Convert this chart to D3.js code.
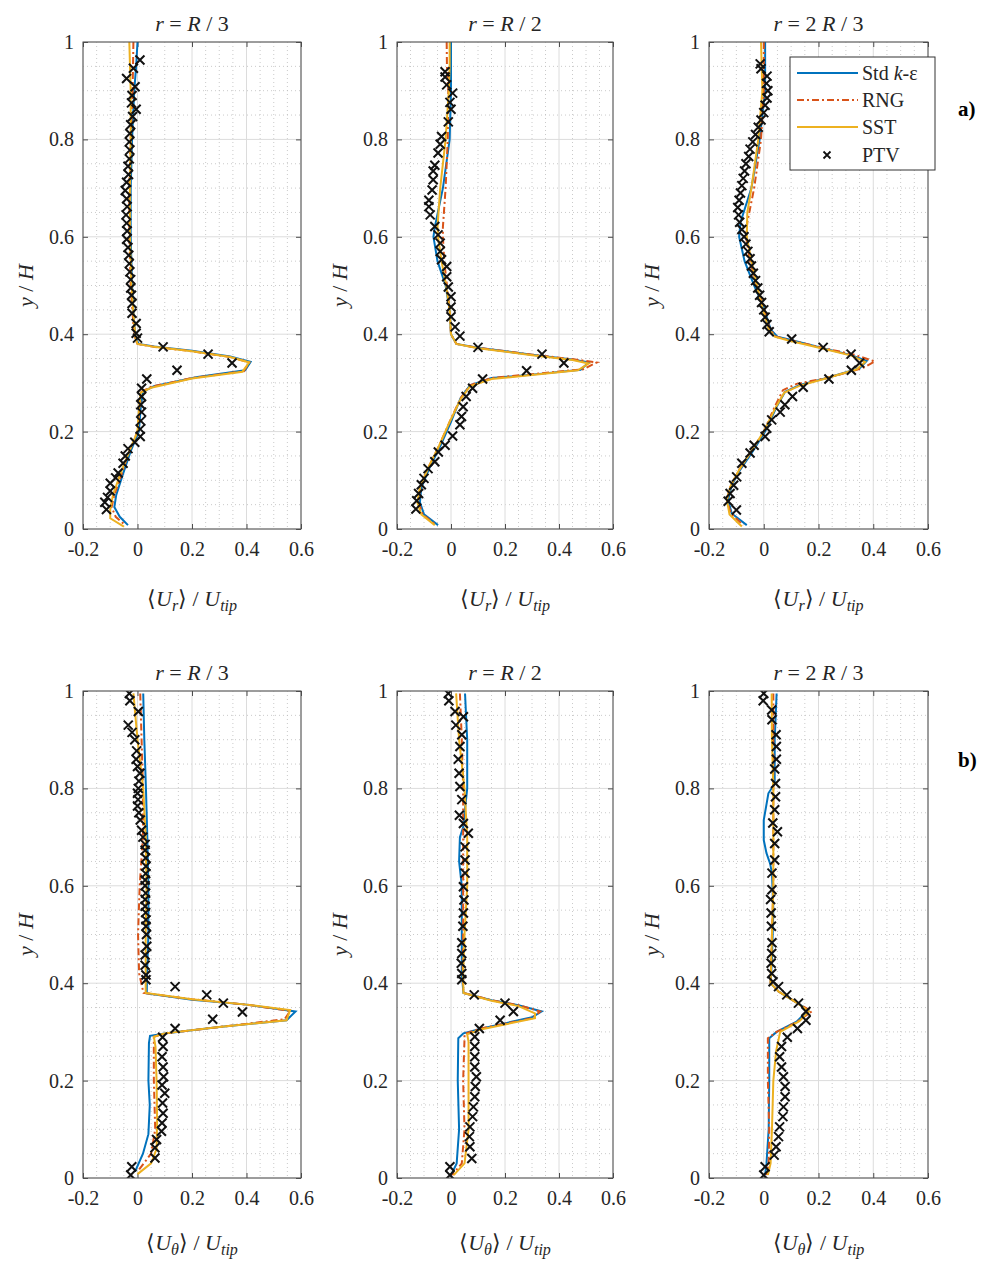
<!DOCTYPE html>
<html><head><meta charset="utf-8">
<script src="https://cdn.jsdelivr.net/npm/d3@7"></script>
<style>body{margin:0;background:#fff} svg{display:block} svg text{font-family:"Liberation Serif","Times New Roman",serif}</style>
</head><body>
<svg id="c" width="990" height="1262"></svg>
<script>
// ---------- tick labels / categories ----------
const xTicks = [-0.2, 0, 0.2, 0.4, 0.6];
const xTickLabels = ["-0.2", "0", "0.2", "0.4", "0.6"];
const yTicks = [0, 0.2, 0.4, 0.6, 0.8, 1];
const yTickLabels = ["0", "0.2", "0.4", "0.6", "0.8", "1"];
const radialPositions = ["R / 3", "R / 2", "2 R / 3"];
const components = ["r", "θ"];
const seriesNames = ["Std k-ε", "RNG", "SST", "PTV"];
const rowTags = ["a)", "b)"];

// ---------- (a) <Ur>/Utip ----------
const urR3Std = [[0.0,1.0],[-0.005,0.95],[-0.012,0.9],[-0.02,0.8],[-0.025,0.7],[-0.025,0.6],[-0.02,0.5],[-0.012,0.42],[-0.005,0.39],[0.005,0.38],[0.06,0.375],[0.2,0.366],[0.34,0.354],[0.415,0.343],[0.395,0.326],[0.22,0.312],[0.06,0.293],[0.02,0.282],[0.012,0.25],[0.005,0.2],[-0.025,0.16],[-0.055,0.11],[-0.078,0.07],[-0.085,0.045],[-0.065,0.025],[-0.035,0.008]];
const urR3Rng = [[-0.015,1.0],[-0.018,0.9],[-0.025,0.8],[-0.03,0.7],[-0.03,0.6],[-0.025,0.5],[-0.015,0.42],[-0.008,0.39],[0.0,0.38],[0.06,0.374],[0.2,0.365],[0.34,0.353],[0.41,0.342],[0.39,0.324],[0.2,0.31],[0.05,0.292],[0.015,0.282],[0.008,0.25],[0.0,0.2],[-0.03,0.16],[-0.06,0.11],[-0.085,0.07],[-0.095,0.045],[-0.08,0.025],[-0.045,0.008]];
const urR3Sst = [[-0.03,1.0],[-0.025,0.9],[-0.025,0.8],[-0.028,0.7],[-0.028,0.6],[-0.022,0.5],[-0.012,0.42],[-0.006,0.39],[0.0,0.38],[0.06,0.374],[0.2,0.365],[0.34,0.353],[0.41,0.342],[0.385,0.323],[0.2,0.309],[0.05,0.29],[0.012,0.28],[0.006,0.25],[0.0,0.2],[-0.03,0.16],[-0.065,0.11],[-0.09,0.07],[-0.1,0.04],[-0.1,0.022],[-0.05,0.005]];
const urR3Ptv = [[0.009,0.963],[-0.015,0.946],[-0.04,0.925],[-0.009,0.908],[-0.02,0.89],[-0.022,0.875],[-0.005,0.862],[-0.018,0.847],[-0.025,0.83],[-0.028,0.812],[-0.03,0.795],[-0.028,0.778],[-0.03,0.76],[-0.035,0.745],[-0.033,0.728],[-0.04,0.712],[-0.045,0.695],[-0.04,0.678],[-0.038,0.662],[-0.042,0.645],[-0.04,0.628],[-0.038,0.612],[-0.04,0.595],[-0.035,0.578],[-0.032,0.562],[-0.03,0.545],[-0.028,0.528],[-0.025,0.512],[-0.025,0.495],[-0.022,0.48],[-0.02,0.463],[-0.02,0.443],[-0.005,0.422],[-0.005,0.402],[0.0,0.392],[0.094,0.374],[0.259,0.359],[0.347,0.341],[0.145,0.326],[0.034,0.308],[0.015,0.289],[0.015,0.272],[0.012,0.255],[0.015,0.24],[0.012,0.222],[0.01,0.205],[0.01,0.19],[-0.01,0.178],[-0.035,0.165],[-0.045,0.15],[-0.053,0.135],[-0.071,0.115],[-0.08,0.105],[-0.1,0.094],[-0.1,0.078],[-0.11,0.065],[-0.12,0.055],[-0.114,0.04]];

const urR2Std = [[0.0,1.0],[0.0,0.95],[0.0,0.9],[-0.005,0.8],[-0.03,0.7],[-0.06,0.62],[-0.065,0.6],[-0.05,0.55],[-0.02,0.5],[-0.005,0.45],[0.0,0.4],[0.02,0.38],[0.1,0.372],[0.3,0.358],[0.45,0.348],[0.51,0.342],[0.48,0.327],[0.3,0.317],[0.15,0.31],[0.07,0.295],[0.035,0.268],[0.0,0.22],[-0.04,0.17],[-0.08,0.125],[-0.11,0.085],[-0.115,0.055],[-0.1,0.03],[-0.048,0.008]];
const urR2Rng = [[-0.016,1.0],[-0.015,0.95],[-0.01,0.9],[-0.012,0.8],[-0.02,0.7],[-0.03,0.62],[-0.03,0.6],[-0.025,0.55],[-0.015,0.5],[-0.005,0.45],[0.0,0.4],[0.02,0.38],[0.1,0.372],[0.3,0.358],[0.46,0.348],[0.54,0.342],[0.49,0.328],[0.3,0.318],[0.15,0.31],[0.07,0.295],[0.035,0.268],[-0.005,0.22],[-0.045,0.17],[-0.085,0.125],[-0.115,0.085],[-0.12,0.055],[-0.105,0.03],[-0.055,0.008]];
const urR2Sst = [[-0.005,1.0],[-0.005,0.95],[-0.008,0.9],[-0.02,0.8],[-0.04,0.7],[-0.05,0.62],[-0.048,0.6],[-0.035,0.55],[-0.018,0.5],[-0.005,0.45],[0.0,0.4],[0.02,0.38],[0.1,0.371],[0.3,0.357],[0.45,0.347],[0.51,0.34],[0.47,0.326],[0.3,0.316],[0.15,0.308],[0.07,0.293],[0.035,0.266],[-0.005,0.22],[-0.045,0.17],[-0.085,0.125],[-0.115,0.085],[-0.125,0.055],[-0.11,0.03],[-0.06,0.008]];
const urR2Ptv = [[-0.022,0.939],[-0.022,0.928],[-0.016,0.912],[0.006,0.895],[-0.004,0.876],[0.0,0.862],[-0.01,0.836],[-0.035,0.806],[-0.04,0.79],[-0.048,0.772],[-0.06,0.747],[-0.066,0.735],[-0.066,0.717],[-0.07,0.696],[-0.082,0.675],[-0.082,0.662],[-0.077,0.645],[-0.06,0.621],[-0.048,0.604],[-0.04,0.587],[-0.04,0.57],[-0.035,0.553],[-0.016,0.539],[-0.016,0.518],[-0.01,0.497],[0.0,0.477],[0.0,0.456],[0.0,0.436],[0.015,0.415],[0.033,0.396],[0.1,0.373],[0.337,0.359],[0.418,0.341],[0.28,0.325],[0.117,0.308],[0.08,0.289],[0.056,0.272],[0.045,0.251],[0.039,0.231],[0.033,0.214],[0.006,0.191],[-0.022,0.172],[-0.047,0.158],[-0.06,0.138],[-0.085,0.124],[-0.1,0.104],[-0.11,0.091],[-0.12,0.073],[-0.127,0.058],[-0.13,0.041]];

const ur2R3Std = [[0.005,1.0],[0.005,0.9],[-0.015,0.8],[-0.045,0.7],[-0.085,0.63],[-0.09,0.6],[-0.07,0.55],[-0.035,0.5],[0.0,0.455],[0.025,0.41],[0.05,0.395],[0.1,0.388],[0.217,0.371],[0.32,0.357],[0.376,0.345],[0.35,0.33],[0.23,0.31],[0.132,0.296],[0.078,0.282],[0.047,0.251],[0.005,0.2],[-0.044,0.156],[-0.087,0.121],[-0.117,0.09],[-0.13,0.06],[-0.117,0.032],[-0.062,0.008]];
const ur2R3Rng = [[0.0,1.0],[0.0,0.9],[-0.01,0.8],[-0.035,0.7],[-0.06,0.63],[-0.065,0.6],[-0.05,0.55],[-0.025,0.5],[0.0,0.455],[0.022,0.41],[0.045,0.395],[0.095,0.388],[0.215,0.372],[0.33,0.358],[0.406,0.344],[0.36,0.33],[0.23,0.31],[0.12,0.298],[0.07,0.285],[0.04,0.251],[0.0,0.2],[-0.05,0.156],[-0.09,0.121],[-0.12,0.09],[-0.135,0.06],[-0.12,0.032],[-0.075,0.008]];
const ur2R3Sst = [[-0.01,1.0],[-0.005,0.9],[-0.02,0.8],[-0.045,0.7],[-0.06,0.65],[-0.062,0.6],[-0.045,0.55],[-0.025,0.5],[-0.005,0.455],[0.018,0.41],[0.04,0.395],[0.09,0.387],[0.21,0.371],[0.32,0.356],[0.37,0.343],[0.34,0.328],[0.22,0.308],[0.13,0.294],[0.075,0.28],[0.044,0.25],[0.0,0.2],[-0.05,0.156],[-0.09,0.121],[-0.12,0.09],[-0.135,0.06],[-0.125,0.03],[-0.08,0.005]];
const ur2R3Ptv = [[-0.013,0.955],[-0.01,0.945],[0.012,0.93],[0.01,0.915],[0.015,0.9],[0.012,0.885],[0.005,0.87],[0.0,0.855],[-0.01,0.84],[-0.02,0.825],[-0.03,0.81],[-0.04,0.795],[-0.05,0.78],[-0.055,0.765],[-0.065,0.75],[-0.07,0.735],[-0.075,0.72],[-0.08,0.705],[-0.085,0.69],[-0.09,0.675],[-0.095,0.66],[-0.092,0.645],[-0.088,0.63],[-0.08,0.615],[-0.072,0.6],[-0.065,0.585],[-0.058,0.57],[-0.05,0.555],[-0.045,0.54],[-0.038,0.525],[-0.03,0.51],[-0.022,0.495],[-0.015,0.48],[-0.008,0.465],[0.0,0.45],[0.005,0.435],[0.012,0.42],[0.02,0.405],[0.102,0.39],[0.217,0.373],[0.319,0.359],[0.35,0.341],[0.32,0.326],[0.238,0.308],[0.144,0.291],[0.105,0.272],[0.077,0.255],[0.06,0.24],[0.029,0.224],[0.011,0.207],[0.005,0.19],[-0.035,0.172],[-0.05,0.156],[-0.08,0.135],[-0.099,0.107],[-0.11,0.09],[-0.123,0.073],[-0.13,0.057],[-0.1,0.039]];

// ---------- (b) <Utheta>/Utip ----------
const utR3Std = [[0.021,0.995],[0.025,0.9],[0.031,0.8],[0.036,0.7],[0.04,0.6],[0.04,0.5],[0.035,0.42],[0.034,0.379],[0.2,0.366],[0.4,0.356],[0.58,0.342],[0.547,0.324],[0.3,0.31],[0.107,0.297],[0.046,0.292],[0.042,0.277],[0.04,0.2],[0.045,0.15],[0.04,0.09],[0.02,0.05],[-0.009,0.013]];
const utR3Rng = [[0.01,0.995],[0.015,0.9],[0.02,0.8],[0.02,0.7],[0.008,0.6],[0.002,0.5],[0.006,0.42],[0.022,0.38],[0.2,0.367],[0.4,0.356],[0.56,0.343],[0.54,0.326],[0.3,0.31],[0.1,0.297],[0.06,0.29],[0.06,0.2],[0.065,0.1],[0.05,0.05],[0.0,0.013]];
const utR3Sst = [[-0.015,0.995],[0.0,0.9],[0.021,0.8],[0.03,0.7],[0.033,0.6],[0.03,0.5],[0.03,0.42],[0.03,0.38],[0.2,0.367],[0.4,0.356],[0.56,0.345],[0.547,0.324],[0.3,0.31],[0.1,0.297],[0.06,0.29],[0.066,0.27],[0.07,0.2],[0.072,0.12],[0.07,0.06],[0.05,0.03],[0.0,0.008]];
const utR3Ptv = [[-0.03,0.995],[-0.028,0.98],[0.003,0.958],[-0.034,0.93],[-0.02,0.915],[-0.01,0.9],[-0.003,0.877],[-0.005,0.86],[0.0,0.845],[0.009,0.831],[0.005,0.815],[0.003,0.8],[0.0,0.79],[0.002,0.777],[0.0,0.764],[0.005,0.75],[0.01,0.735],[0.015,0.714],[0.02,0.7],[0.028,0.685],[0.028,0.673],[0.03,0.657],[0.031,0.64],[0.03,0.625],[0.028,0.612],[0.028,0.6],[0.03,0.585],[0.028,0.572],[0.028,0.558],[0.03,0.545],[0.031,0.53],[0.031,0.517],[0.033,0.5],[0.034,0.476],[0.028,0.458],[0.028,0.437],[0.031,0.417],[0.031,0.407],[0.138,0.393],[0.254,0.376],[0.315,0.359],[0.385,0.341],[0.276,0.326],[0.138,0.307],[0.092,0.289],[0.094,0.27],[0.09,0.249],[0.094,0.228],[0.096,0.208],[0.09,0.191],[0.1,0.174],[0.092,0.154],[0.094,0.133],[0.09,0.113],[0.088,0.096],[0.07,0.079],[0.064,0.062],[0.064,0.041],[-0.021,0.023],[-0.025,0.006]];

const utR2Std = [[0.052,0.995],[0.06,0.9],[0.06,0.8],[0.045,0.72],[0.033,0.7],[0.03,0.65],[0.04,0.6],[0.04,0.5],[0.04,0.42],[0.046,0.38],[0.15,0.365],[0.25,0.355],[0.336,0.342],[0.3,0.33],[0.114,0.307],[0.046,0.297],[0.027,0.287],[0.025,0.2],[0.03,0.1],[0.021,0.03],[0.0,0.006]];
const utR2Rng = [[0.033,0.995],[0.04,0.9],[0.045,0.8],[0.045,0.7],[0.045,0.6],[0.045,0.5],[0.043,0.42],[0.046,0.38],[0.15,0.365],[0.25,0.355],[0.33,0.342],[0.3,0.328],[0.11,0.307],[0.05,0.296],[0.05,0.285],[0.045,0.2],[0.05,0.1],[0.04,0.03],[0.005,0.006]];
const utR2Sst = [[0.019,0.995],[0.03,0.9],[0.05,0.8],[0.06,0.7],[0.06,0.6],[0.05,0.5],[0.045,0.42],[0.046,0.38],[0.15,0.364],[0.25,0.353],[0.311,0.338],[0.311,0.328],[0.11,0.305],[0.06,0.295],[0.065,0.28],[0.065,0.2],[0.065,0.1],[0.05,0.03],[0.01,0.006]];
const utR2Ptv = [[-0.01,0.995],[-0.008,0.98],[0.015,0.958],[0.046,0.947],[0.018,0.93],[0.04,0.91],[0.033,0.886],[0.027,0.86],[0.03,0.831],[0.033,0.804],[0.04,0.777],[0.031,0.745],[0.046,0.728],[0.064,0.708],[0.052,0.68],[0.052,0.653],[0.052,0.626],[0.046,0.598],[0.048,0.571],[0.046,0.544],[0.044,0.517],[0.04,0.483],[0.04,0.461],[0.038,0.441],[0.04,0.42],[0.04,0.407],[0.086,0.376],[0.2,0.359],[0.231,0.342],[0.182,0.324],[0.105,0.307],[0.088,0.29],[0.088,0.27],[0.088,0.249],[0.088,0.228],[0.094,0.208],[0.09,0.188],[0.088,0.167],[0.083,0.146],[0.08,0.126],[0.07,0.105],[0.068,0.085],[0.07,0.064],[0.077,0.04],[-0.004,0.023],[-0.004,0.006]];

const ut2R3Std = [[0.047,0.995],[0.04,0.9],[0.04,0.81],[0.017,0.79],[0.0,0.735],[0.0,0.694],[0.01,0.667],[0.023,0.646],[0.03,0.626],[0.035,0.55],[0.03,0.45],[0.025,0.4],[0.054,0.383],[0.12,0.36],[0.163,0.345],[0.12,0.321],[0.047,0.3],[0.02,0.287],[0.02,0.2],[0.018,0.1],[0.01,0.03],[0.005,0.006]];
const ut2R3Rng = [[0.035,0.995],[0.035,0.9],[0.035,0.8],[0.035,0.7],[0.035,0.6],[0.03,0.5],[0.025,0.4],[0.054,0.383],[0.12,0.36],[0.175,0.342],[0.12,0.32],[0.047,0.3],[0.015,0.287],[0.015,0.2],[0.02,0.1],[0.018,0.03],[0.01,0.006]];
const ut2R3Sst = [[0.029,0.995],[0.03,0.9],[0.035,0.8],[0.035,0.7],[0.035,0.6],[0.03,0.5],[0.025,0.4],[0.054,0.383],[0.12,0.36],[0.165,0.342],[0.13,0.322],[0.06,0.3],[0.045,0.26],[0.035,0.2],[0.03,0.1],[0.025,0.03],[0.015,0.006]];
const ut2R3Ptv = [[0.0,0.995],[-0.002,0.98],[0.029,0.961],[0.03,0.941],[0.045,0.91],[0.046,0.886],[0.046,0.86],[0.04,0.84],[0.043,0.81],[0.043,0.783],[0.04,0.756],[0.033,0.729],[0.05,0.711],[0.04,0.687],[0.04,0.653],[0.03,0.626],[0.03,0.592],[0.025,0.572],[0.027,0.544],[0.028,0.517],[0.03,0.483],[0.029,0.461],[0.027,0.441],[0.029,0.42],[0.034,0.403],[0.054,0.393],[0.084,0.376],[0.127,0.359],[0.154,0.342],[0.154,0.324],[0.123,0.307],[0.086,0.289],[0.065,0.27],[0.058,0.249],[0.065,0.228],[0.072,0.208],[0.078,0.188],[0.078,0.167],[0.072,0.146],[0.07,0.126],[0.058,0.105],[0.054,0.085],[0.045,0.064],[0.038,0.047],[0.005,0.023],[0.0,0.006]];

// ---------- layout ----------
const colX = [[83, 301], [397, 613], [709, 928]];
const rowY = [[42, 529], [691, 1178]];
const xLabelBase = [606, 1250];
const colors = {std: "#0072BD", rng: "#D95319", sst: "#EDB120"};
const SERIF = '"Liberation Serif", "Times New Roman", serif';

const panels = [
  {r:0,c:0,std:urR3Std,rng:urR3Rng,sst:urR3Sst,ptv:urR3Ptv},
  {r:0,c:1,std:urR2Std,rng:urR2Rng,sst:urR2Sst,ptv:urR2Ptv},
  {r:0,c:2,std:ur2R3Std,rng:ur2R3Rng,sst:ur2R3Sst,ptv:ur2R3Ptv},
  {r:1,c:0,std:utR3Std,rng:utR3Rng,sst:utR3Sst,ptv:utR3Ptv},
  {r:1,c:1,std:utR2Std,rng:utR2Rng,sst:utR2Sst,ptv:utR2Ptv},
  {r:1,c:2,std:ut2R3Std,rng:ut2R3Rng,sst:ut2R3Sst,ptv:ut2R3Ptv}
];

const svg = d3.select("#c").style("font-family", SERIF);
const defs = svg.append("defs");
const FS = 20;
const MARK = "M-4.5,-4.5L4.5,4.5M-4.5,4.5L4.5,-4.5";

panels.forEach((p, i) => {
  const [L, R] = colX[p.c], [T, B] = rowY[p.r];
  const x = d3.scaleLinear().domain([-0.2, 0.6]).range([L, R]);
  const y = d3.scaleLinear().domain([0, 1]).range([B, T]);
  const g = svg.append("g");
  defs.append("clipPath").attr("id", "clip" + i).append("rect")
    .attr("x", L).attr("y", T).attr("width", R - L).attr("height", B - T);

  // minor grid
  const minX = d3.range(-0.2, 0.6001, 0.05).filter(v => Math.abs(Math.round(v / 0.2) * 0.2 - v) > 1e-6);
  const minY = d3.range(0, 1.0001, 0.05).filter(v => Math.abs(Math.round(v / 0.2) * 0.2 - v) > 1e-6);
  g.selectAll(".mx").data(minX).join("line").attr("x1", d => x(d)).attr("x2", d => x(d))
    .attr("y1", T).attr("y2", B).attr("stroke", "#bdbdbd").attr("stroke-width", 0.8).attr("stroke-dasharray", "1,3");
  g.selectAll(".my").data(minY).join("line").attr("y1", d => y(d)).attr("y2", d => y(d))
    .attr("x1", L).attr("x2", R).attr("stroke", "#bdbdbd").attr("stroke-width", 0.8).attr("stroke-dasharray", "1,3");
  // major grid
  g.selectAll(".gx").data(xTicks).join("line").attr("x1", d => x(d)).attr("x2", d => x(d))
    .attr("y1", T).attr("y2", B).attr("stroke", "#dcdcdc").attr("stroke-width", 1);
  g.selectAll(".gy").data(yTicks).join("line").attr("y1", d => y(d)).attr("y2", d => y(d))
    .attr("x1", L).attr("x2", R).attr("stroke", "#dcdcdc").attr("stroke-width", 1);

  // axes with inward ticks
  const axB = d3.axisBottom(x).tickValues(xTicks).tickSize(-5).tickFormat((d, k) => xTickLabels[k]);
  const axT = d3.axisTop(x).tickValues(xTicks).tickSize(-5).tickFormat("");
  const axL = d3.axisLeft(y).tickValues(yTicks).tickSize(-5).tickFormat((d, k) => yTickLabels[k]);
  const axR = d3.axisRight(y).tickValues(yTicks).tickSize(-5).tickFormat("");
  const styleAx = sel => {
    sel.attr("font-family", null).style("font-family", SERIF).attr("font-size", FS);
    sel.select(".domain").remove();
    sel.selectAll("line").attr("stroke", "#4d4d4d");
    sel.selectAll("text").style("font-family", SERIF).attr("font-size", FS).attr("fill", "#262626");
  };
  g.append("g").attr("transform", `translate(0,${B})`).call(axB).call(styleAx)
    .selectAll("text").attr("dy", "1.05em").attr("y", 6);
  g.append("g").attr("transform", `translate(0,${T})`).call(axT).call(styleAx);
  g.append("g").attr("transform", `translate(${L},0)`).call(axL).call(styleAx)
    .selectAll("text").attr("x", -9);
  g.append("g").attr("transform", `translate(${R},0)`).call(axR).call(styleAx);

  // series
  const line = d3.line().x(d => x(d[0])).y(d => y(d[1]));
  const plot = g.append("g").attr("clip-path", `url(#clip${i})`);
  plot.append("path").attr("d", line(p.std)).attr("fill", "none").attr("stroke", colors.std).attr("stroke-width", 2);
  plot.append("path").attr("d", line(p.rng)).attr("fill", "none").attr("stroke", colors.rng).attr("stroke-width", 2).attr("stroke-dasharray", "7,3,2,3");
  plot.append("path").attr("d", line(p.sst)).attr("fill", "none").attr("stroke", colors.sst).attr("stroke-width", 2);
  plot.selectAll(".pt").data(p.ptv).join("path")
    .attr("transform", d => `translate(${x(d[0])},${y(d[1])})`)
    .attr("d", MARK).attr("stroke", "#111").attr("stroke-width", 2);

  // box
  g.append("rect").attr("x", L).attr("y", T).attr("width", R - L).attr("height", B - T)
    .attr("fill", "none").attr("stroke", "#4d4d4d").attr("stroke-width", 1);

  // title
  const cx = (L + R) / 2;
  const t = g.append("text").attr("x", cx).attr("y", T - 11).attr("text-anchor", "middle")
    .attr("font-size", 22).attr("fill", "#262626");
  t.append("tspan").attr("font-style", "italic").text("r");
  t.append("tspan").text(" = ");
  const pos = radialPositions[p.c];
  if (pos.startsWith("2")) { t.append("tspan").text("2 "); }
  t.append("tspan").attr("font-style", "italic").text("R");
  t.append("tspan").text(pos.startsWith("2") ? " / 3" : pos.slice(1));

  // x label
  const xl = g.append("text").attr("x", cx).attr("y", xLabelBase[p.r]).attr("text-anchor", "middle")
    .attr("font-size", 22).attr("fill", "#262626");
  xl.append("tspan").text("⟨");
  xl.append("tspan").attr("font-style", "italic").text("U");
  xl.append("tspan").attr("font-style", "italic").attr("font-size", 16).attr("dy", 5).text(components[p.r]);
  xl.append("tspan").attr("dy", -5).text("⟩ / ");
  xl.append("tspan").attr("font-style", "italic").text("U");
  xl.append("tspan").attr("font-style", "italic").attr("font-size", 16).attr("dy", 5).text("tip");

  // y label
  const yl = g.append("text").attr("transform", `translate(${L - 50},${(T + B) / 2}) rotate(-90)`)
    .attr("text-anchor", "middle").attr("font-size", 22).attr("fill", "#262626");
  yl.append("tspan").attr("font-style", "italic").text("y");
  yl.append("tspan").text(" / ");
  yl.append("tspan").attr("font-style", "italic").text("H");
});

// row tags
svg.append("text").attr("x", 958).attr("y", 116).attr("font-size", 21).attr("font-weight", "bold").text(rowTags[0]);
svg.append("text").attr("x", 958).attr("y", 767).attr("font-size", 21).attr("font-weight", "bold").text(rowTags[1]);

// legend
const lg = svg.append("g");
lg.append("rect").attr("x", 790).attr("y", 57).attr("width", 145).attr("height", 113)
  .attr("fill", "#fff").attr("stroke", "#333").attr("stroke-width", 1);
const legY = [73, 100, 127, 155];
const legStyle = [
  {c: colors.std, dash: null}, {c: colors.rng, dash: "7,3,2,3"}, {c: colors.sst, dash: null}, null
];
seriesNames.forEach((name, k) => {
  const yy = legY[k];
  if (legStyle[k]) {
    lg.append("line").attr("x1", 797).attr("x2", 858).attr("y1", yy).attr("y2", yy)
      .attr("stroke", legStyle[k].c).attr("stroke-width", 2).attr("stroke-dasharray", legStyle[k].dash);
  } else {
    lg.append("path").attr("transform", `translate(827,${yy})`).attr("d", "M-3.5,-3.5L3.5,3.5M-3.5,3.5L3.5,-3.5")
      .attr("stroke", "#111").attr("stroke-width", 1.8);
  }
  const tx = lg.append("text").attr("x", 862).attr("y", yy + 7).attr("font-size", 20).attr("fill", "#262626");
  if (name.startsWith("Std")) {
    tx.append("tspan").text("Std ");
    tx.append("tspan").attr("font-style", "italic").text("k");
    tx.append("tspan").text("-ε");
  } else tx.text(name);
});
</script>
</body></html>
